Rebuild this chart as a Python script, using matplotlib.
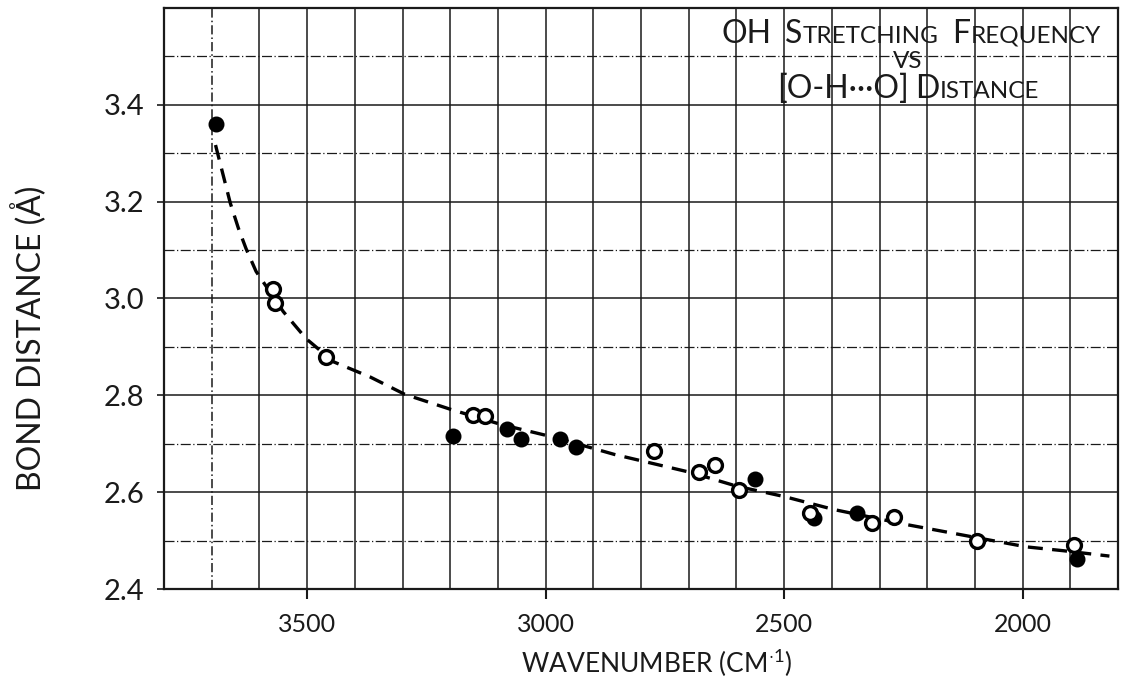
#!/usr/bin/env python3
# OH stretching frequency vs [O-H...O] distance: scanned-style grid chart
# with hand-fitted dashed curve, filled and open data points.

import matplotlib
matplotlib.use("Agg")
import matplotlib.pyplot as plt
import numpy as np

FONT = "Lato"
plt.rcParams["font.family"] = [FONT, "DejaVu Sans"]
plt.rcParams["mathtext.fontset"] = "custom"
plt.rcParams["mathtext.rm"] = FONT
plt.rcParams["mathtext.it"] = FONT

# ---------------------------------------------------------------------------
# Data
# ---------------------------------------------------------------------------

# filled circles
filled_x = [3690, 3195, 3080, 3052, 2969, 2937, 2561, 2437, 2347, 1885]
filled_y = [3.36, 2.717, 2.730, 2.709, 2.709, 2.693, 2.628, 2.547, 2.558, 2.462]

# open circles
open_x = [3571, 3567, 3460, 3153, 3126, 2772, 2678, 2644, 2594, 2446,
          2316, 2270, 2096, 1893]
open_y = [3.020, 2.990, 2.879, 2.759, 2.757, 2.684, 2.641, 2.657, 2.605,
          2.558, 2.537, 2.549, 2.500, 2.491]

# hand-drawn dashed curve, traced
curve_x = [3692, 3676, 3661, 3644, 3628, 3607, 3550, 3502, 3444, 3368,
           3295, 3199, 3094, 2981, 2856, 2697, 2598, 2500, 2395, 2243,
           2096, 1992, 1914, 1818]
curve_y = [3.317, 3.255, 3.197, 3.145, 3.103, 3.056, 2.973, 2.917, 2.869,
           2.838, 2.802, 2.771, 2.740, 2.713, 2.678, 2.641, 2.612, 2.591,
           2.564, 2.533, 2.506, 2.487, 2.479, 2.468]

x_ticks = [3500, 3000, 2500, 2000]
y_ticks = [2.4, 2.6, 2.8, 3.0, 3.2, 3.4]
y_tick_labels = ["2.4", "2.6", "2.8", "3.0", "3.2", "3.4"]

INK = "#1a1a1a"


def small_caps_line(fig, cx, y, pieces, big=23, small=17.5):
    """Draw a run of (text, is_big, gap_after_px) pieces centred on cx
    (figure pixels), baseline at y (figure pixels)."""
    renderer = fig.canvas.get_renderer()
    W, H = fig.bbox.width, fig.bbox.height
    texts, widths = [], []
    for s, is_big, gap in pieces:
        t = fig.text(0, y / H, s, fontsize=big if is_big else small,
                     color=INK, va="baseline", ha="left")
        w = t.get_window_extent(renderer).width
        texts.append(t)
        widths.append(w + gap)
    x = cx - sum(widths) / 2
    for t, w in zip(texts, widths):
        t.set_x(x / W)
        x += w


def main():
    fig = plt.figure(figsize=(11.24, 6.89), dpi=100)
    ax = fig.add_axes([164 / 1124, 1 - 589 / 689,
                       (1118 - 164) / 1124, (589 - 8) / 689])

    ax.set_xlim(3800, 1800)
    ax.set_ylim(2.4, 3.6)

    # graph-paper grid
    for gx in range(3700, 1800, -100):
        ls = (0, (6, 2, 1, 2)) if gx == 3700 else "-"
        ax.axvline(gx, color=INK, lw=1.1, ls=ls, zorder=1)
    for gy in np.arange(2.5, 3.55, 0.1):
        major = abs(round(gy * 10) % 2) == 0
        ax.axhline(gy, color=INK, lw=1.1 if major else 0.9,
                   ls="-" if major else (0, (8, 2, 1, 2)), zorder=1)

    ax.plot(curve_x, curve_y, color="black", lw=2.4,
            ls=(0, (4.5, 2.8)), zorder=3)
    ax.plot(filled_x, filled_y, ls="none", marker="o", ms=10,
            mfc="black", mec="black", mew=1.5, zorder=4)
    ax.plot(open_x, open_y, ls="none", marker="o", ms=10,
            mfc="white", mec="black", mew=2.4, zorder=4)

    ax.set_xticks(x_ticks)
    ax.set_xticklabels([str(v) for v in x_ticks])
    ax.set_yticks(y_ticks)
    ax.set_yticklabels(y_tick_labels)
    ax.tick_params(axis="x", direction="out", length=7, width=1.5,
                   pad=10, labelsize=18, colors=INK)
    ax.tick_params(axis="y", direction="out", length=5, width=1.2,
                   pad=9, labelsize=21, colors=INK)
    for sp in ax.spines.values():
        sp.set_linewidth(1.6)
        sp.set_color(INK)

    ax.set_xlabel(r"WAVENUMBER (CM$^{\cdot 1}$)", fontsize=19, color=INK)
    ax.xaxis.set_label_coords(0.517, -0.1)
    ax.set_ylabel("BOND DISTANCE (Å)", fontsize=23, color=INK)
    ax.yaxis.set_label_coords(-0.122, 0.432)

    # title block, small caps
    fig.canvas.draw()
    small_caps_line(fig, 911, 689 - 43, [
        ("OH", True, 14), ("S", True, 0), ("TRETCHING", False, 14),
        ("F", True, 0), ("REQUENCY", False, 0)])
    small_caps_line(fig, 908, 689 - 68, [("VS", False, 0)])
    small_caps_line(fig, 908, 689 - 98, [
        ("[O-H···O]", True, 6), ("D", True, 0), ("ISTANCE", False, 0)])

    fig.savefig("out.png", dpi=100)


if __name__ == "__main__":
    main()
